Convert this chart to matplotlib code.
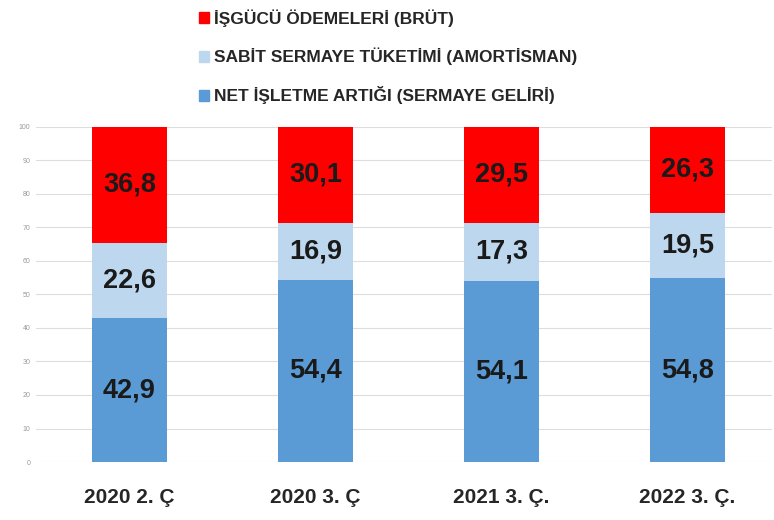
import matplotlib.pyplot as plt
import matplotlib.patches as mpatches
import numpy as np

plt.rcParams['font.family'] = ['Liberation Sans', 'DejaVu Sans']

# data
periods = ['2020 2. Ç', '2020 3. Ç', '2021 3. Ç.', '2022 3. Ç.']
net_isletme = [42.9, 54.4, 54.1, 54.8]
sabit_sermaye = [22.6, 16.9, 17.3, 19.5]
isgucu = [36.8, 30.1, 29.5, 26.3]

series_names = ['İŞGÜCÜ ÖDEMELERİ (BRÜT)',
                'SABİT SERMAYE TÜKETİMİ (AMORTİSMAN)',
                'NET İŞLETME ARTIĞI (SERMAYE GELİRİ)']
colors = {'red': '#ff0000', 'light': '#bdd7ee', 'blue': '#5b9bd5'}

fig = plt.figure(figsize=(7.74, 5.2), dpi=100)
ax = fig.add_axes([0.0465, 0.1115, 0.951, 0.6445])

x = np.arange(len(periods))
width = 0.4
net = np.array(net_isletme)
sabit = np.array(sabit_sermaye)
isg = np.array(isgucu)

ax.bar(x, net, width, color=colors['blue'], zorder=2)
ax.bar(x, sabit, width, bottom=net, color=colors['light'], zorder=2)
ax.bar(x, isg, width, bottom=net + sabit, color=colors['red'], zorder=2)

ax.set_ylim(0, 100)
ax.set_xlim(-0.503, 3.454)

# value labels, centred in the visible part of each segment
for i in range(len(periods)):
    segs = [(0, net[i]), (net[i], net[i] + sabit[i]), (net[i] + sabit[i], net[i] + sabit[i] + isg[i])]
    vals = [net[i], sabit[i], isg[i]]
    for (lo, hi), v in zip(segs, vals):
        mid = (lo + min(hi, 100)) / 2
        ax.text(x[i], mid, f'{v:.1f}'.replace('.', ','), ha='center', va='center',
                fontsize=19.5, fontweight='bold', color='#1a1a1a', zorder=3)

ax.set_yticks(np.arange(0, 101, 10))
ax.tick_params(axis='y', labelsize=5, colors='#999999', length=0, pad=4)
ax.grid(axis='y', color='#dddddd', linewidth=0.8, zorder=0)
ax.set_xticks(x)
ax.set_xticklabels(periods, fontsize=15, fontweight='bold', color='#262626')
ax.tick_params(axis='x', length=0, pad=19)
for s in ax.spines.values():
    s.set_visible(False)

handles = [mpatches.Patch(color=colors['red']),
           mpatches.Patch(color=colors['light']),
           mpatches.Patch(color=colors['blue'])]
leg = fig.legend(handles, series_names, loc='upper left', bbox_to_anchor=(0.237, 1.012),
                 frameon=False, handlelength=0.55, handleheight=0.6, handletextpad=0.3,
                 labelspacing=1.2, prop={'size': 12.5, 'weight': 'bold'})
for t in leg.get_texts():
    t.set_color('#262626')

fig.savefig('out.png', dpi=100)
